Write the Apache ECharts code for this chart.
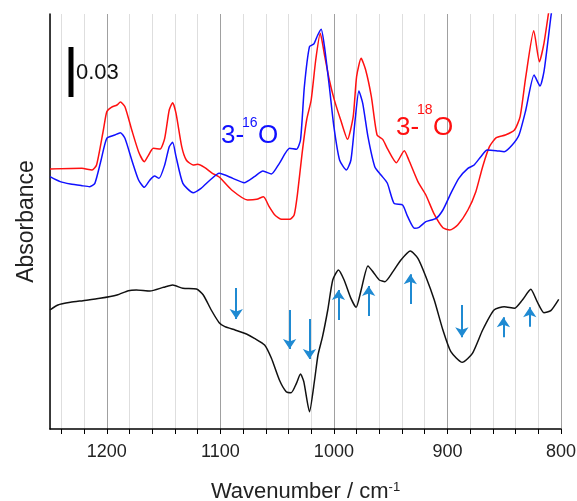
<!DOCTYPE html>
<html><head><meta charset="utf-8">
<script src="https://cdn.jsdelivr.net/npm/echarts@6/dist/echarts.min.js"></script>
<style>html,body{margin:0;padding:0;background:#fff;overflow:hidden}#c{width:577px;height:501px}</style>
</head><body><div id="c"></div>
<script>
// Absorbance values in mAbs (scale bar = 30 mAbs = 0.03)
const red18O = [[1250,156.0],[1222,156.4],[1213,155.4],[1209,158.4],[1203,179.4],[1200,190.4],[1196,193.0],[1191,194.4],[1188,196.2],[1184,193.4],[1178,179.4],[1172,166.4],[1167,160.4],[1164,163.4],[1159,168.4],[1153,168.0],[1149,174.4],[1145,191.4],[1142,195.8],[1139,189.4],[1134,169.4],[1130,161.4],[1124,158.4],[1120,158.8],[1114,157.0],[1107,153.4],[1101,151.2],[1090,143.4],[1076,137.4],[1068,137.8],[1062,139.4],[1057,133.4],[1052,128.4],[1046,125.8],[1039,125.8],[1035,128.4],[1032,141.4],[1028,165.4],[1024,185.4],[1020,197.4],[1016,221.4],[1012,237.4],[1008,223.4],[1004,209.4],[1000,198.4],[994,185.4],[988,173.8],[983,187.4],[980,211.4],[976,222.4],[972,215.4],[967,199.4],[962,176.4],[957,173.8],[953,168.4],[945,159.8],[938,167.0],[934,161.4],[926,148.4],[919,140.4],[912,129.4],[904,120.8],[898,119.4],[891,122.4],[882,131.4],[875,142.4],[869,157.4],[863,169.4],[857,174.8],[849,176.4],[841,179.4],[836,187.4],[831,211.4],[824,239.0],[819,220.4],[815,231.4],[811,249.4],[806,269.4]];
const blue16O = [[1250,151.4],[1241,148.4],[1232,147.0],[1222,146.0],[1215,145.4],[1210.5,147.4],[1205,161.4],[1200,174.4],[1193,176.4],[1188,177.8],[1184,174.4],[1178,161.4],[1172,149.4],[1167,145.0],[1162,149.4],[1158,151.8],[1154,150.4],[1149,158.4],[1145,169.4],[1142,172.0],[1139,163.4],[1133,147.4],[1124,141.8],[1117,144.4],[1109,149.4],[1101,153.4],[1089,150.4],[1079,147.8],[1070,151.4],[1062.5,154.8],[1055,153.0],[1048,159.4],[1039,168.4],[1033,167.8],[1029.4,173.4],[1026,205.4],[1021.5,229.4],[1017.7,231.0],[1014.2,236.4],[1011.2,239.8],[1008.3,229.4],[1004,205.4],[1000,181.4],[995,161.4],[989,155.4],[985,161.4],[981.3,185.4],[978,202.8],[974.6,195.4],[970,175.4],[964,157.4],[958.5,152.4],[953,147.6],[947,135.4],[939.5,134.4],[935,127.4],[929,120.4],[925,121.0],[919,124.4],[910,126.4],[904,131.4],[897,141.4],[890,150.4],[882,156.4],[876.5,158.4],[870.6,163.4],[865,167.4],[857,167.0],[850,166.4],[843,170.4],[837,176.4],[831,191.4],[823.7,212.4],[818.5,205.8],[815,214.4],[811.4,233.4],[808.5,249.4],[804,266.4]];
const diffSpec = [[1250,71.4],[1243,74.4],[1232,76.0],[1221,77.0],[1206,78.4],[1191,80.4],[1181,83.0],[1174,83.4],[1162,82.8],[1150,85.0],[1142,86.4],[1133,84.4],[1121,84.0],[1115,80.4],[1108,71.4],[1101,63.8],[1096,61.4],[1087,59.4],[1077,57.0],[1070,54.4],[1061,50.4],[1055,42.4],[1048,29.4],[1042,22.4],[1037.6,21.8],[1033,27.4],[1029.4,33.0],[1026.5,28.4],[1021.5,10.4],[1017,29.4],[1014,44.4],[1010,55.4],[1005.4,71.4],[1001,89.4],[996,95.4],[991,89.4],[985,78.4],[980.4,73.0],[976,83.4],[970,97.8],[965,93.8],[960,89.4],[955,88.4],[948,94.4],[941,101.4],[932.7,106.8],[926,102.4],[919,91.4],[911.6,77.4],[904,59.4],[897,46.4],[887,40.0],[878,45.4],[869,59.4],[859,71.4],[850,73.4],[841,72.4],[834,77.4],[826.6,83.8],[821,76.4],[815,69.8],[809,71.0],[802,77.8]];
const arrowWn = [1086, 1039, 1021.5, 996, 969.4, 932.7, 887.3, 850.7, 827.5];
const arrowFrom = [84.6, 71.4, 66.0, 65.4, 67.8, 75.0, 74.4, 55.0, 61.4];
const arrowTo = [66.0, 48.0, 42.0, 83.4, 85.8, 92.8, 55.0, 67.0, 73.0];
const scaleBarWn = 1231.5;
const scaleBarFrom = 199.2;
const scaleBarTo = 229.2;
const xTickLabels = [1200, 1100, 1000, 900, 800];

const FONT = 'Liberation Sans, Arial, sans-serif';
const chart = echarts.init(document.getElementById('c'), null, {renderer: 'canvas'});
const arrowData = arrowWn.map((w, i) => ({coords: [[w, arrowFrom[i]], [w, arrowTo[i]]]}));

function txt(text, x, y, size, color) {
  return {type: 'text', x: x, y: y, style: {text: text, x: 0, y: 0, font: size + 'px ' + FONT, fill: color,
    align: 'left', verticalAlign: 'middle', textAlign: 'left', textVerticalAlign: 'middle'}, z: 100};
}

chart.setOption({
  animation: false,
  backgroundColor: '#fff',
  grid: {left: 50, right: 16, top: 14, bottom: 72, containLabel: false, outerBoundsMode: 'none'},
  xAxis: {
    type: 'value', inverse: true, min: 800, max: 1250, interval: 20,
    axisLine: {show: true, onZero: false, lineStyle: {color: '#000', width: 1.5}},
    axisTick: {show: true, length: 5, lineStyle: {color: '#000', width: 1}},
    axisLabel: {margin: 14, fontSize: 18, fontFamily: FONT, color: '#222', showMaxLabel: false,
      formatter: v => xTickLabels.indexOf(v) >= 0 ? String(v) : ''},
    splitLine: {show: true, lineStyle: {color: ['#a0a0a0', '#dedede', '#dedede', '#dedede', '#dedede'], width: 1}},
    name: '{a|Wavenumber / cm}{b|-1}', nameLocation: 'middle', nameGap: 52,
    nameTextStyle: {rich: {a: {fontSize: 22, fontFamily: FONT, color: '#222'},
                           b: {fontSize: 13, fontFamily: FONT, color: '#222', verticalAlign: 'top'}}}
  },
  yAxis: {
    type: 'value', min: 0, max: 249,
    axisLine: {show: true, onZero: false, lineStyle: {color: '#000', width: 1.5}},
    axisTick: {show: false}, axisLabel: {show: false}, splitLine: {show: false},
    name: 'Absorbance', nameLocation: 'middle', nameGap: 12,
    nameTextStyle: {fontSize: 23, fontFamily: FONT, color: '#222'}
  },
  series: [
    {type: 'line', name: '3-18O', data: red18O, showSymbol: false, smooth: 0.2,
     lineStyle: {color: '#ff1010', width: 1.5}, z: 3},
    {type: 'line', name: '3-16O', data: blue16O, showSymbol: false, smooth: 0.2,
     lineStyle: {color: '#1010ff', width: 1.5}, z: 4},
    {type: 'line', name: 'difference', data: diffSpec, showSymbol: false, smooth: 0.2,
     lineStyle: {color: '#111', width: 1.5}, z: 5},
    {type: 'line', name: 'scale', data: [[scaleBarWn, scaleBarFrom], [scaleBarWn, scaleBarTo]], showSymbol: false,
     lineStyle: {color: '#000', width: 5}, z: 6},
    {type: 'lines', coordinateSystem: 'cartesian2d', data: arrowData, symbol: ['none', 'arrow'], symbolSize: 10,
     lineStyle: {color: '#1f8ad2', width: 2, opacity: 1}, z: 7}
  ],
  graphic: [
    txt('0.03', 76, 73, 22, '#111'),
    txt('3-', 221, 135.5, 26, '#1010ff'),
    txt('16', 242, 123, 14, '#1010ff'),
    txt('O', 258, 135.5, 26, '#1010ff'),
    txt('3-', 396, 127.5, 26, '#ff1010'),
    txt('18', 417, 110, 14, '#ff1010'),
    txt('O', 433, 127.5, 26, '#ff1010')
  ]
});
</script></body></html>
